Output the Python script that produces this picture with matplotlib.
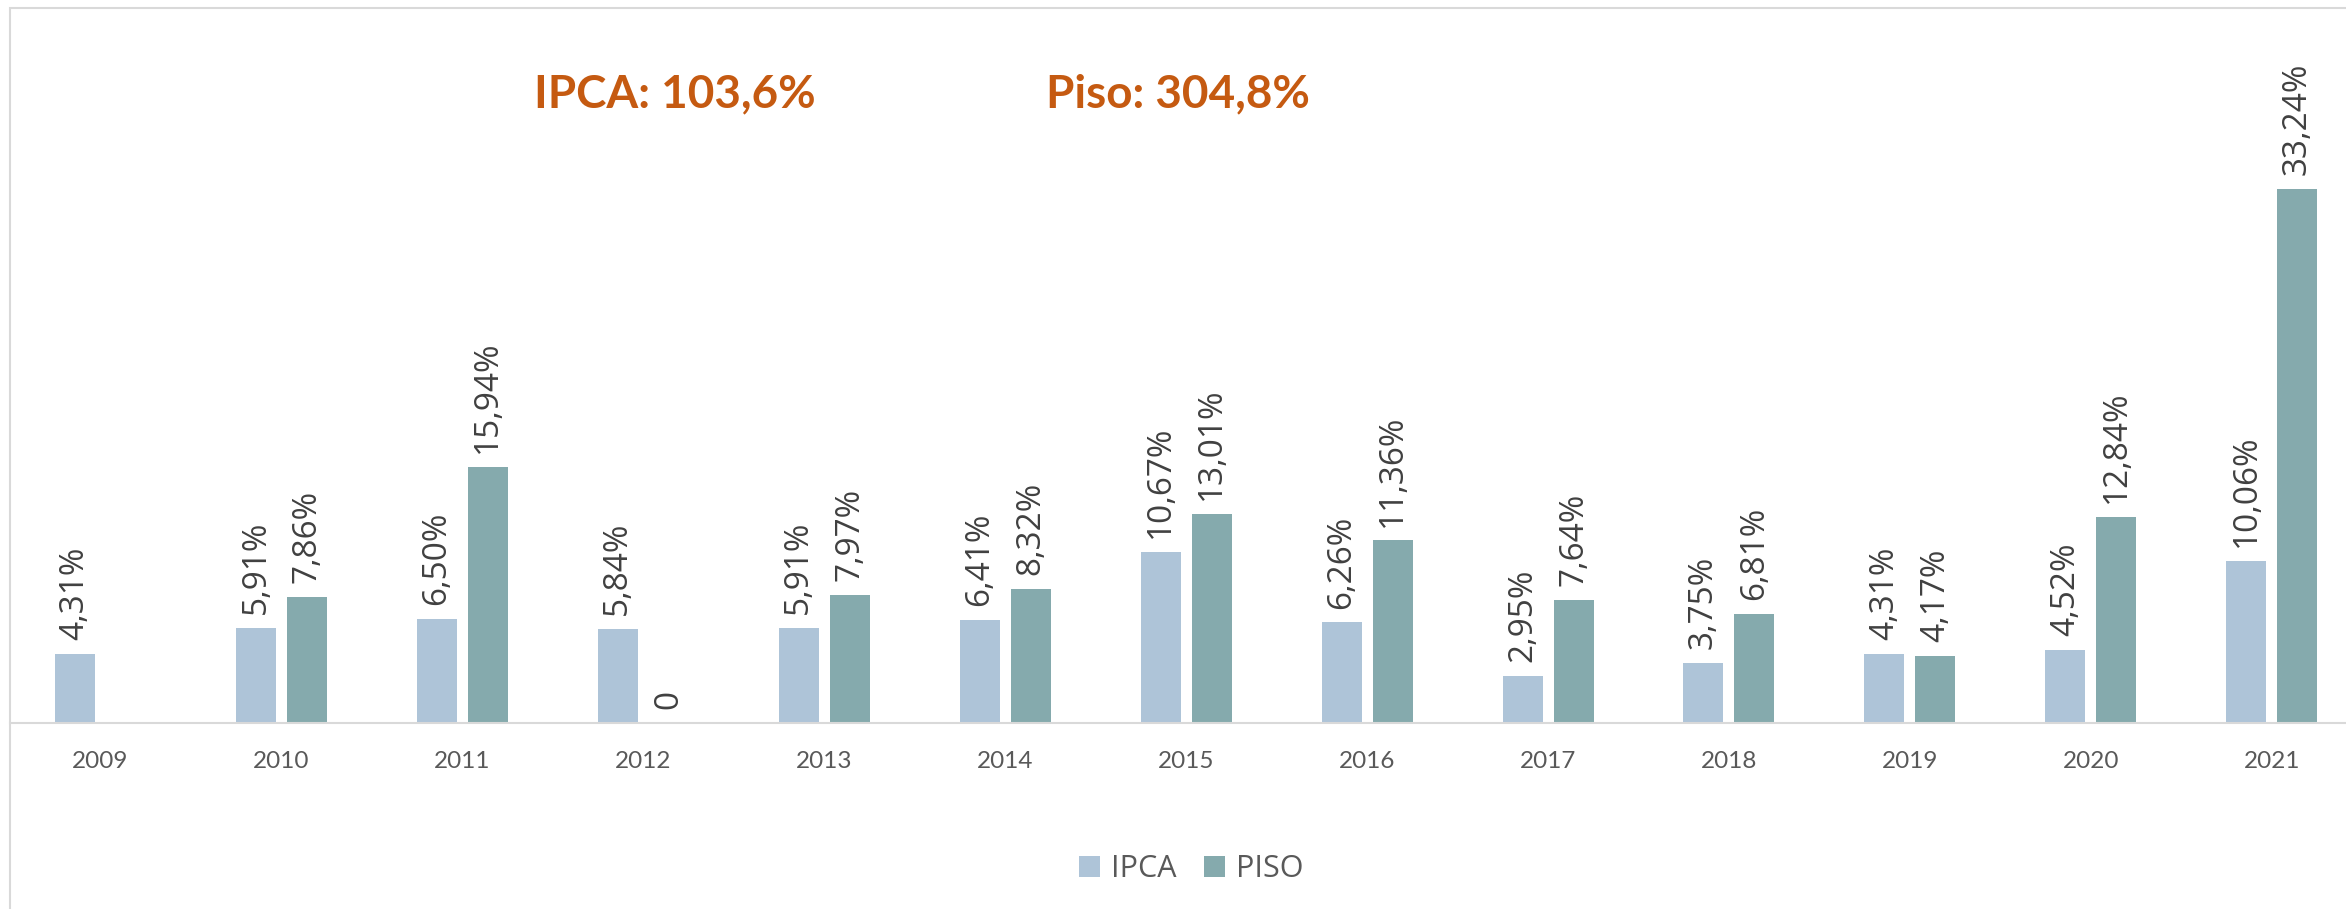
import numpy as np
import matplotlib
matplotlib.use("Agg")
import matplotlib.pyplot as plt
from matplotlib.patches import Rectangle, Patch

years = ["2009", "2010", "2011", "2012", "2013", "2014", "2015",
         "2016", "2017", "2018", "2019", "2020", "2021"]
ipca = [4.31, 5.91, 6.50, 5.84, 5.91, 6.41, 10.67, 6.26, 2.95, 3.75, 4.31, 4.52, 10.06]
piso = [np.nan, 7.86, 15.94, 0, 7.97, 8.32, 13.01, 11.36, 7.64, 6.81, 4.17, 12.84, 33.24]
totals = ["IPCA: 103,6%", "Piso: 304,8%"]

c_ipca = "#AEC4D8"
c_piso = "#85AAAD"
c_text = "#404040"
c_axis = "#595959"
c_orange = "#C55A11"

W, H = 2346, 909
fig = plt.figure(figsize=(W / 100, H / 100), dpi=100)

# outer chart border (runs off the right and bottom edges)
fig.patches.append(Rectangle((10 / W, -0.1), 1.2, 1.1 - 8 / H, transform=fig.transFigure,
                             fill=False, edgecolor="#D9D9D9", linewidth=1.5, clip_on=False))

ax = fig.add_axes([10 / W, 1 - 723 / H, 1 - 10 / W, (723 - 8) / H])
x = np.arange(len(years))
bw = 0.221
off = 0.141
ax.bar(x - off, ipca, bw, color=c_ipca, label="IPCA")
ax.bar(x + off, piso, bw, color=c_piso, label="PISO")

def fmt(v):
    if v == 0:
        return "0"
    return ("%.2f%%" % v).replace(".", ",")

for xs, vals in ((x - off, ipca), (x + off, piso)):
    for xi, v in zip(xs, vals):
        if np.isnan(v):
            continue
        ax.annotate(fmt(v), (xi, v), xytext=(0, 10), textcoords="offset points",
                    rotation=90, ha="center", va="bottom", fontsize=24,
                    family="Open Sans", color=c_text)

ax.set_xlim(-0.5, 12.41)
ax.set_ylim(0, 44.5)
ax.set_xticks(x)
ax.set_xticklabels(years, family="Lato", fontsize=17.5, color=c_axis)
ax.tick_params(axis="x", length=0, pad=20)
ax.set_yticks([])
for s in ("top", "right", "left"):
    ax.spines[s].set_visible(False)
ax.spines["bottom"].set_color("#D9D9D9")
ax.spines["bottom"].set_linewidth(1.5)
ax.set_facecolor("none")

fig.text(675 / W, 1 - 94 / H, totals[0], ha="center", va="center", fontsize=33,
         family="Lato", weight="bold", color=c_orange)
fig.text(1178 / W, 1 - 94 / H, totals[1], ha="center", va="center", fontsize=33,
         family="Lato", weight="bold", color=c_orange)

handles = [Patch(facecolor=c_ipca, label="IPCA"), Patch(facecolor=c_piso, label="PISO")]
fig.legend(handles=handles, loc="center", bbox_to_anchor=(1191 / W, 1 - 869 / H), ncol=2,
           frameon=False, prop={"family": "Open Sans", "size": 22}, labelcolor=c_axis,
           handlelength=0.7, handleheight=0.7, handletextpad=0.35, columnspacing=0.9)

fig.savefig("out.png", dpi=100)
